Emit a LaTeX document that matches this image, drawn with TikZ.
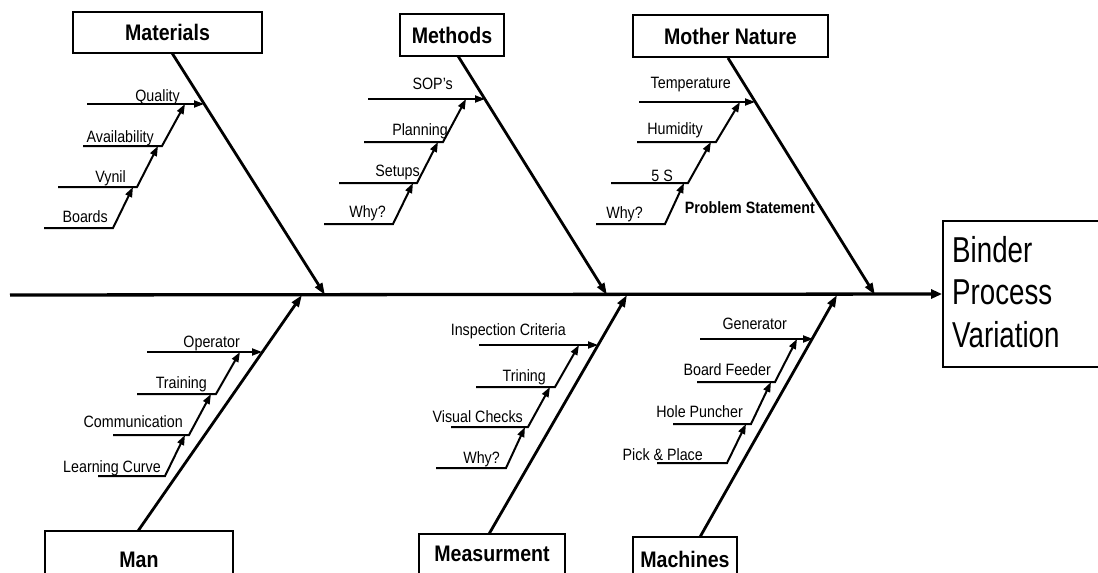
\documentclass[tikz,border=0pt]{standalone}
\usepackage{fontspec}
\setmainfont[FakeStretch=0.87]{Liberation Sans}
\newfontfamily\bigfont[FakeStretch=0.77]{Liberation Sans}
\usetikzlibrary{arrows.meta}
\tikzset{
  lab/.style={anchor=base east, inner sep=0pt, font=\fontsize{16.4}{19}\selectfont},
  cat/.style={draw, line width=1.8pt, inner sep=0pt, font=\bfseries\fontsize{22.5}{26}\selectfont},
  spine/.style={line width=3.3pt, -{Triangle[length=11pt,width=9pt]}},
  bone/.style={line width=2.8pt, -{Triangle[length=12pt,width=8pt]}},
  sub/.style={line width=2pt, line join=miter, -{Triangle[length=10pt,width=7pt]}}
}
\begin{document}
\begin{tikzpicture}[x=1pt,y=-1pt]
\useasboundingbox (0,0) rectangle (1098,573);
\clip (0,0) rectangle (1098,573);
\fill[white] (0,0) rectangle (1098,573);

% category boxes
\node[cat, minimum width=189pt, minimum height=41pt] (mat) at (167.5,32.5) {Materials};
\node[cat, minimum width=104pt, minimum height=42pt] (met) at (452,35) {Methods};
\node[cat, minimum width=195pt, minimum height=42pt] (mon) at (730.5,36) {Mother Nature};
\node[cat, minimum width=188pt, minimum height=58pt] (man) at (139,560) {Man};
\node[cat, minimum width=146pt, minimum height=40pt] (mea) at (492,554) {Measurment};
\node[cat, minimum width=104pt, minimum height=44pt] (mac) at (685,559) {Machines};

% effect box
\node[draw, line width=1.8pt, minimum width=157pt, minimum height=146pt, inner sep=0pt] (effect) at (1021.5,294) {};
\node[anchor=base west, inner sep=0pt, align=left, font=\bigfont\fontsize{36}{42.5}\selectfont] (efftext) at (952,347) {Binder\\Process\\Variation};

% spine
\coordinate (spS) at (10,295);
\draw[spine] (spS) -- (effect.west);

% main bones
\coordinate (matS) at (172,53);  \coordinate (matE) at (325,295);
\coordinate (metS) at (458,56);  \coordinate (metE) at (607,295);
\coordinate (monS) at (728,58);  \coordinate (monE) at (875,295);
\coordinate (manS) at (138,531); \coordinate (manE) at (302,295);
\coordinate (meaS) at (489,534); \coordinate (meaE) at (627,295);
\coordinate (macS) at (700,537); \coordinate (macE) at (837,295);
\draw[bone] (matS) -- (matE);
\draw[bone] (metS) -- (metE);
\draw[bone] (monS) -- (monE);
\draw[bone] (manS) -- (manE);
\draw[bone] (meaS) -- (meaE);
\draw[bone] (macS) -- (macE);

% ---------- Materials ----------
\coordinate (ma1a) at (87,104);  \coordinate (ma1b) at (204,104);
\coordinate (ma2a) at (83,146);  \coordinate (ma2b) at (162,146); \coordinate (ma2t) at (185,104);
\coordinate (ma3a) at (58,187);  \coordinate (ma3b) at (137,187); \coordinate (ma3t) at (158,146);
\coordinate (ma4a) at (44,228);  \coordinate (ma4b) at (113,228); \coordinate (ma4t) at (133,187);
\draw[sub] (ma1a) -- (ma1b);
\draw[sub] (ma2a) -- (ma2b) -- (ma2t);
\draw[sub] (ma3a) -- (ma3b) -- (ma3t);
\draw[sub] (ma4a) -- (ma4b) -- (ma4t);
\node[lab] (lq) at (180,101) {Quality};
\node[lab] (la) at (154,142) {Availability};
\node[lab] (lv) at (126,182) {Vynil};
\node[lab] (lb) at (108,222) {Boards};

% ---------- Methods ----------
\coordinate (me1a) at (368,99);  \coordinate (me1b) at (485,99);
\coordinate (me2a) at (364,142); \coordinate (me2b) at (443,142); \coordinate (me2t) at (466,99);
\coordinate (me3a) at (339,183); \coordinate (me3b) at (417,183); \coordinate (me3t) at (438,142);
\coordinate (me4a) at (324,224); \coordinate (me4b) at (393,224); \coordinate (me4t) at (413,183);
\draw[sub] (me1a) -- (me1b);
\draw[sub] (me2a) -- (me2b) -- (me2t);
\draw[sub] (me3a) -- (me3b) -- (me3t);
\draw[sub] (me4a) -- (me4b) -- (me4t);
\node[lab] (lsop) at (453,89) {SOP's};
\node[lab] (lpl) at (448,135) {Planning};
\node[lab] (lse) at (420,176) {Setups};
\node[lab] (lw1) at (386,217) {Why?};

% ---------- Mother Nature ----------
\coordinate (mo1a) at (639,102); \coordinate (mo1b) at (755,102);
\coordinate (mo2a) at (637,142); \coordinate (mo2b) at (716,142); \coordinate (mo2t) at (740,102);
\coordinate (mo3a) at (611,183); \coordinate (mo3b) at (688,183); \coordinate (mo3t) at (711,142);
\coordinate (mo4a) at (596,224); \coordinate (mo4b) at (665,224); \coordinate (mo4t) at (684,183);
\draw[sub] (mo1a) -- (mo1b);
\draw[sub] (mo2a) -- (mo2b) -- (mo2t);
\draw[sub] (mo3a) -- (mo3b) -- (mo3t);
\draw[sub] (mo4a) -- (mo4b) -- (mo4t);
\node[lab] (lte) at (731,88) {Temperature};
\node[lab] (lhu) at (703,134) {Humidity};
\node[lab] (l5s) at (673,181) {5 S};
\node[lab] (lw2) at (643,218) {Why?};
\node[lab, font=\bfseries\fontsize{16.4}{19}\selectfont] (lps) at (815,213) {Problem Statement};

% ---------- Man ----------
\coordinate (mn1a) at (147,352); \coordinate (mn1b) at (262,352);
\coordinate (mn2a) at (137,394); \coordinate (mn2b) at (216,394); \coordinate (mn2t) at (240,352);
\coordinate (mn3a) at (113,435); \coordinate (mn3b) at (189,435); \coordinate (mn3t) at (211,394);
\coordinate (mn4a) at (98,476);  \coordinate (mn4b) at (165,476); \coordinate (mn4t) at (185,435);
\draw[sub] (mn1a) -- (mn1b);
\draw[sub] (mn2a) -- (mn2b) -- (mn2t);
\draw[sub] (mn3a) -- (mn3b) -- (mn3t);
\draw[sub] (mn4a) -- (mn4b) -- (mn4t);
\node[lab] (lop) at (240,347) {Operator};
\node[lab] (ltr) at (207,388) {Training};
\node[lab] (lco) at (183,427) {Communication};
\node[lab] (llc) at (161,472) {Learning Curve};

% ---------- Measurment ----------
\coordinate (me5a) at (479,345); \coordinate (me5b) at (598,345);
\coordinate (me6a) at (476,387); \coordinate (me6b) at (555,387); \coordinate (me6t) at (579,345);
\coordinate (me7a) at (451,427); \coordinate (me7b) at (528,427); \coordinate (me7t) at (550,387);
\coordinate (me8a) at (436,468); \coordinate (me8b) at (506,468); \coordinate (me8t) at (525,427);
\draw[sub] (me5a) -- (me5b);
\draw[sub] (me6a) -- (me6b) -- (me6t);
\draw[sub] (me7a) -- (me7b) -- (me7t);
\draw[sub] (me8a) -- (me8b) -- (me8t);
\node[lab] (lic) at (566,335) {Inspection Criteria};
\node[lab] (ltn) at (546,381) {Trining};
\node[lab] (lvc) at (523,422) {Visual Checks};
\node[lab] (lw3) at (500,463) {Why?};

% ---------- Machines ----------
\coordinate (mc1a) at (700,339); \coordinate (mc1b) at (813,339);
\coordinate (mc2a) at (697,382); \coordinate (mc2b) at (775,382); \coordinate (mc2t) at (797,339);
\coordinate (mc3a) at (673,424); \coordinate (mc3b) at (751,424); \coordinate (mc3t) at (771,382);
\coordinate (mc4a) at (657,463); \coordinate (mc4b) at (727,463); \coordinate (mc4t) at (746,424);
\draw[sub] (mc1a) -- (mc1b);
\draw[sub] (mc2a) -- (mc2b) -- (mc2t);
\draw[sub] (mc3a) -- (mc3b) -- (mc3t);
\draw[sub] (mc4a) -- (mc4b) -- (mc4t);
\node[lab] (lge) at (787,329) {Generator};
\node[lab] (lbf) at (771,375) {Board Feeder};
\node[lab] (lhp) at (743,417) {Hole Puncher};
\node[lab] (lpp) at (703,460) {Pick \& Place};
\end{tikzpicture}
\end{document}
